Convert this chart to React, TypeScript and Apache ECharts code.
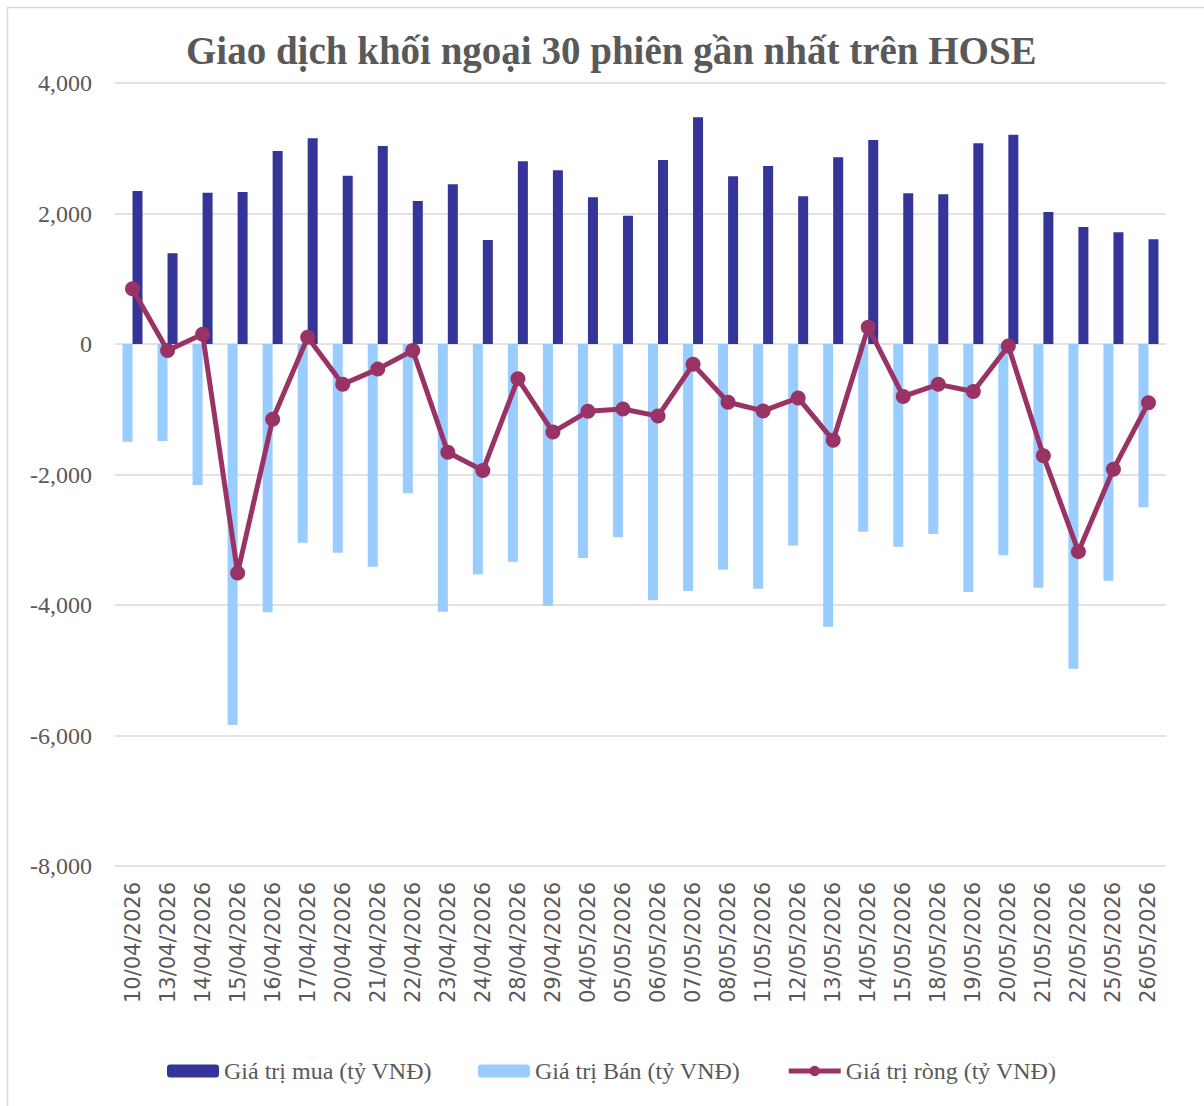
import React, { useEffect, useRef } from "react";
import * as echarts from "echarts";

const categories = [
  "10/04/2026", "13/04/2026", "14/04/2026", "15/04/2026", "16/04/2026",
  "17/04/2026", "20/04/2026", "21/04/2026", "22/04/2026", "23/04/2026",
  "24/04/2026", "28/04/2026", "29/04/2026", "04/05/2026", "05/05/2026",
  "06/05/2026", "07/05/2026", "08/05/2026", "11/05/2026", "12/05/2026",
  "13/05/2026", "14/05/2026", "15/05/2026", "18/05/2026", "19/05/2026",
  "20/05/2026", "21/05/2026", "22/05/2026", "25/05/2026", "26/05/2026",
];

const buyValues = [
  2345, 1390, 2319, 2330, 2958, 3152, 2580, 3034, 2192, 2447,
  1594, 2800, 2662, 2248, 1966, 2820, 3474, 2570, 2728, 2263,
  2861, 3126, 2309, 2294, 3075, 3208, 2023, 1793, 1712, 1604,
];

const sellValues = [
  -1497, -1487, -2161, -5839, -4112, -3045, -3198, -3413, -2289, -4102,
  -3530, -3336, -4010, -3280, -2963, -3929, -3785, -3459, -3750, -3089,
  -4332, -2877, -3107, -2912, -3801, -3239, -3735, -4976, -3628, -2503,
];

const netValues = [
  845, -100, 150, -3510, -1154, 105, -618, -385, -100, -1660,
  -1938, -534, -1350, -1032, -997, -1105, -312, -892, -1025, -827,
  -1476, 255, -803, -618, -728, -31, -1714, -3182, -1918, -899,
];

const yMin = -8000;
const yMax = 4000;
const yInterval = 2000;

const SERIES_BUY = "Giá trị mua (tỷ VNĐ)";
const SERIES_SELL = "Giá trị Bán (tỷ VNĐ)";
const SERIES_NET = "Giá trị ròng (tỷ VNĐ)";

export default function App() {
  const ref = useRef<HTMLDivElement>(null);

  useEffect(() => {
    if (!ref.current) return;
    const chart = echarts.init(ref.current, null, { renderer: "svg" });
    const serif = "'Liberation Serif', 'DejaVu Serif', serif";
    const gray = "#595959";
    chart.setOption({
      animation: false,
      backgroundColor: "#ffffff",
      title: {
        text: "Giao dịch khối ngoại 30 phiên gần nhất trên HOSE",
        left: 181,
        top: 26,
        textStyle: {
          fontFamily: serif,
          fontWeight: "bold",
          fontSize: 39,
          color: gray,
        },
      },
      graphic: [
        {
          type: "rect",
          shape: { x: 7.5, y: 7.5, width: 1210, height: 1110 },
          style: { fill: "none", stroke: "#d9d9d9", lineWidth: 1.5 },
          silent: true,
        },
      ],
      legend: {
        data: [SERIES_BUY, SERIES_SELL, SERIES_NET],
        left: 162,
        top: 1054,
        itemWidth: 52,
        itemHeight: 13,
        itemGap: 46,
        lineStyle: { width: 5 },
        textStyle: { fontFamily: serif, fontSize: 24, color: gray },
      },
      grid: { left: 115, right: 38, top: 83, bottom: 240, containLabel: false },
      xAxis: {
        type: "category",
        data: categories,
        axisLine: { show: false },
        axisTick: { show: false },
        axisLabel: {
          rotate: 90,
          interval: 0,
          margin: 16,
          fontFamily: "'DejaVu Sans', sans-serif",
          fontSize: 21,
          color: gray,
        },
      },
      yAxis: {
        type: "value",
        min: yMin,
        max: yMax,
        interval: yInterval,
        axisLine: { show: false },
        axisTick: { show: false },
        splitLine: { lineStyle: { color: "#d9d9d9", width: 1.5 } },
        axisLabel: {
          margin: 23,
          fontFamily: serif,
          fontSize: 24,
          color: gray,
          formatter: (v: number) =>
            v.toLocaleString("en-US", { maximumFractionDigits: 0 }),
        },
      },
      series: [
        {
          name: SERIES_SELL,
          type: "bar",
          data: sellValues,
          barWidth: 10,
          barGap: "0%",
          itemStyle: { color: "#99ccff" },
          legendIcon: "rect",
        },
        {
          name: SERIES_BUY,
          type: "bar",
          data: buyValues,
          barWidth: 10,
          barGap: "0%",
          itemStyle: { color: "#353599" },
          legendIcon: "rect",
        },
        {
          name: SERIES_NET,
          type: "line",
          data: netValues,
          symbol: "circle",
          symbolSize: 15,
          z: 5,
          lineStyle: { color: "#993366", width: 5 },
          itemStyle: { color: "#993366" },
        },
      ],
    });
    return () => chart.dispose();
  }, []);

  return (
    <div
      ref={ref}
      style={{ position: "fixed", left: 0, top: 0, width: 1204, height: 1106 }}
    />
  );
}
